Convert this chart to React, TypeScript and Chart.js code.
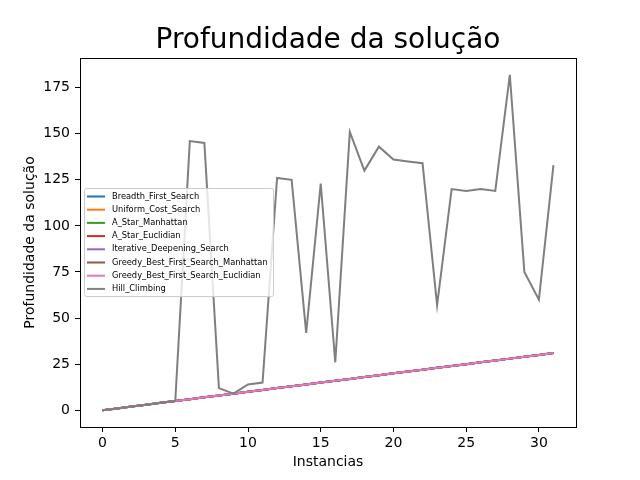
import React, { useEffect, useRef } from "react";
import { Chart, registerables } from "chart.js";

Chart.register(...registerables);

const instances = [0, 1, 2, 3, 4, 5, 6, 7, 8, 9, 10, 11, 12, 13, 14, 15, 16, 17, 18, 19, 20, 21, 22, 23, 24, 25, 26, 27, 28, 29, 30, 31];

const breadthFirstSearch = [0, 1, 2, 3, 4, 5, 6, 7, 8, 9, 10, 11, 12, 13, 14, 15, 16, 17, 18, 19, 20, 21, 22, 23, 24, 25, 26, 27, 28, 29, 30, 31];
const uniformCostSearch = [0, 1, 2, 3, 4, 5, 6, 7, 8, 9, 10, 11, 12, 13, 14, 15, 16, 17, 18, 19, 20, 21, 22, 23, 24, 25, 26, 27, 28, 29, 30, 31];
const aStarManhattan = [0, 1, 2, 3, 4, 5, 6, 7, 8, 9, 10, 11, 12, 13, 14, 15, 16, 17, 18, 19, 20, 21, 22, 23, 24, 25, 26, 27, 28, 29, 30, 31];
const aStarEuclidian = [0, 1, 2, 3, 4, 5, 6, 7, 8, 9, 10, 11, 12, 13, 14, 15, 16, 17, 18, 19, 20, 21, 22, 23, 24, 25, 26, 27, 28, 29, 30, 31];
const iterativeDeepeningSearch = [0, 1, 2, 3, 4, 5, 6, 7, 8, 9, 10, 11, 12, 13, 14, 15, 16, 17, 18, 19, 20, 21, 22, 23, 24, 25, 26, 27, 28, 29, 30, 31];
const greedyManhattan = [0, 1, 2, 3, 4, 5, 6, 7, 8, 9, 10, 11, 12, 13, 14, 15, 16, 17, 18, 19, 20, 21, 22, 23, 24, 25, 26, 27, 28, 29, 30, 31];
const greedyEuclidian = [0, 1, 2, 3, 4, 5, 6, 7, 8, 9, 10, 11, 12, 13, 14, 15, 16, 17, 18, 19, 20, 21, 22, 23, 24, 25, 26, 27, 28, 29, 30, 31];
const hillClimbing = [0, 1, 2, 3, 4, 5, 146, 145, 12, 9, 14, 15, 126, 125, 42, 123, 26, 151, 130, 143, 136, 135, 134, 57, 120, 119, 120, 119, 182, 75, 60, 133];

const seriesLabels = [
  "Breadth_First_Search",
  "Uniform_Cost_Search",
  "A_Star_Manhattan",
  "A_Star_Euclidian",
  "Iterative_Deepening_Search",
  "Greedy_Best_First_Search_Manhattan",
  "Greedy_Best_First_Search_Euclidian",
  "Hill_Climbing",
];
const seriesValues = [
  breadthFirstSearch,
  uniformCostSearch,
  aStarManhattan,
  aStarEuclidian,
  iterativeDeepeningSearch,
  greedyManhattan,
  greedyEuclidian,
  hillClimbing,
];
const seriesColors = ["#1f77b4", "#ff7f0e", "#2ca02c", "#d62728", "#9467bd", "#8c564b", "#e377c2", "#7f7f7f"];

const xTicks = [0, 5, 10, 15, 20, 25, 30];
const yTicks = [0, 25, 50, 75, 100, 125, 150, 175];

const titleText = "Profundidade da solução";
const xLabel = "Instancias";
const yLabel = "Profundidade da solução";

const FONT = "'DejaVu Sans', sans-serif";

const framePlugin = {
  id: "frameAndTitle",
  afterDatasetsDraw(chart: any) {
    const { ctx, chartArea } = chart;
    ctx.save();
    ctx.strokeStyle = "#000";
    ctx.lineWidth = 1;
    ctx.strokeRect(
      Math.round(chartArea.left) + 0.5,
      Math.round(chartArea.top) + 0.5,
      Math.round(chartArea.right - chartArea.left),
      Math.round(chartArea.bottom - chartArea.top)
    );
    // title
    ctx.fillStyle = "#000";
    ctx.font = `28px ${FONT}`;
    ctx.textAlign = "center";
    ctx.textBaseline = "alphabetic";
    ctx.fillText(titleText, (chartArea.left + chartArea.right) / 2, 48);

    // legend
    const bx = chartArea.left + 4;
    const by = chartArea.top + 130;
    const bw = 189;
    const bh = 108;
    ctx.fillStyle = "rgba(255,255,255,0.8)";
    ctx.strokeStyle = "#cccccc";
    ctx.lineWidth = 1;
    ctx.beginPath();
    if ((ctx as any).roundRect) (ctx as any).roundRect(bx + 0.5, by + 0.5, bw, bh, 2);
    else ctx.rect(bx + 0.5, by + 0.5, bw, bh);
    ctx.fill();
    ctx.stroke();
    ctx.font = `8.3px ${FONT}`;
    ctx.textAlign = "left";
    ctx.textBaseline = "middle";
    chart.data.datasets.forEach((ds: any, i: number) => {
      const y = by + 8.5 + i * 13.2;
      ctx.strokeStyle = ds.borderColor;
      ctx.lineWidth = 2;
      ctx.beginPath();
      ctx.moveTo(bx + 3, y);
      ctx.lineTo(bx + 21, y);
      ctx.stroke();
      ctx.fillStyle = "#000";
      ctx.fillText(ds.label, bx + 28, y);
    });
    ctx.restore();
  },
};

export default function App() {
  const canvasRef = useRef<HTMLCanvasElement | null>(null);

  useEffect(() => {
    document.body.style.margin = "0";
    const canvas = canvasRef.current;
    if (!canvas) return;
    const datasets = seriesLabels.map((label, i) => ({
      label,
      data: instances.map((x, j) => ({ x, y: seriesValues[i][j] })),
      borderColor: seriesColors[i],
      backgroundColor: seriesColors[i],
      borderWidth: 2,
      pointRadius: 0,
      fill: false,
      tension: 0,
      order: seriesLabels.length - i,
    }));
    const chart = new Chart(canvas, {
      type: "line",
      data: { datasets },
      options: {
        responsive: false,
        animation: false,
        devicePixelRatio: 1,
        layout: { padding: { left: 0, right: 64, top: 58, bottom: 0 } },
        plugins: {
          legend: { display: false },
          tooltip: { enabled: false },
          title: { display: false },
        },
        scales: {
          x: {
            type: "linear",
            min: -1.55,
            max: 32.55,
            afterBuildTicks: (scale: any) => {
              scale.ticks = xTicks.map((v) => ({ value: v }));
            },
            afterFit: (scale: any) => {
              scale.height = 53;
            },
            grid: {
              display: true,
              drawOnChartArea: false,
              drawTicks: true,
              tickLength: 5,
              color: "#000",
            },
            border: { display: false },
            ticks: {
              color: "#000",
              font: { family: FONT, size: 14 },
              padding: 3,
              maxRotation: 0,
              autoSkip: false,
            },
            title: {
              display: true,
              text: xLabel,
              color: "#000",
              font: { family: FONT, size: 14 },
              padding: { top: 0, bottom: 9.6 },
            },
          },
          y: {
            type: "linear",
            min: -9.1,
            max: 191.1,
            afterBuildTicks: (scale: any) => {
              scale.ticks = yTicks.map((v) => ({ value: v }));
            },
            afterFit: (scale: any) => {
              scale.width = 80;
            },
            grid: {
              display: true,
              drawOnChartArea: false,
              drawTicks: true,
              tickLength: 5,
              color: "#000",
            },
            border: { display: false },
            ticks: {
              color: "#000",
              font: { family: FONT, size: 14 },
              padding: 5,
              autoSkip: false,
            },
            title: {
              display: true,
              text: yLabel,
              color: "#000",
              font: { family: FONT, size: 14 },
              padding: { top: 21.6, bottom: 0 },
            },
          },
        },
      },
      plugins: [framePlugin],
    });
    return () => chart.destroy();
  }, []);

  return (
    <div style={{ width: 640, height: 480 }}>
      <canvas ref={canvasRef} width={640} height={480} />
    </div>
  );
}
